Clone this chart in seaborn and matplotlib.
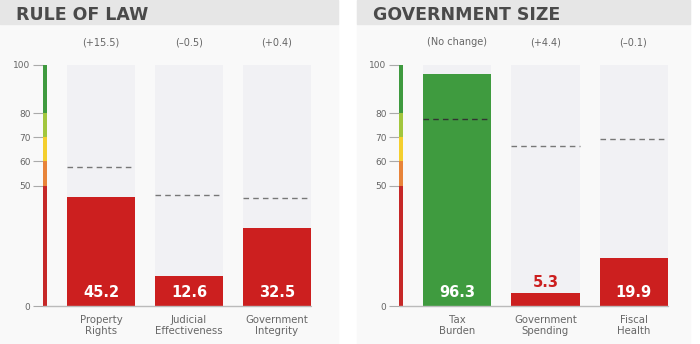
import matplotlib
matplotlib.use("Agg")
import matplotlib.pyplot as plt
from matplotlib.patches import Rectangle
import seaborn as sns
import pandas as pd

sns.set_style("white")
plt.rcParams['font.family'] = ['DejaVu Sans']

# ---- data ----
panel_titles = ["RULE OF LAW", "GOVERNMENT SIZE"]
left_categories = ["Property\nRights", "Judicial\nEffectiveness", "Government\nIntegrity"]
left_scores = [45.2, 12.6, 32.5]
left_averages = [57.7, 46.1, 44.9]
left_changes = ["(+15.5)", "(\u20130.5)", "(+0.4)"]

right_categories = ["Tax\nBurden", "Government\nSpending", "Fiscal\nHealth"]
right_scores = [96.3, 5.3, 19.9]
right_averages = [77.6, 66.5, 69.3]
right_changes = ["(No change)", "(+4.4)", "(\u20130.1)"]

scale_ticks = [0, 50, 60, 70, 80, 100]
scale_bands = [(0, 50), (50, 60), (60, 70), (70, 80), (80, 100)]
band_colors = ["#c62828", "#e8843a", "#f4cf2e", "#a2c63e", "#3f9a3f"]

RED = "#cc1f1f"
GREEN = "#3f9b3f"
BAR_BG = "#f1f1f4"
PANEL_BG = "#f9f9f9"
BAND_BG = "#e6e6e6"

W, H = 700, 344
fig = plt.figure(figsize=(7, 3.44), dpi=100)
fig.patch.set_facecolor("white")

def px_rect(x0, y0, x1, y1, color):
    fig.patches.append(Rectangle((x0 / W, 1 - y1 / H), (x1 - x0) / W, (y1 - y0) / H,
                                 transform=fig.transFigure, color=color, zorder=-5))

# panels
for (x0, x1) in [(0, 338), (357, 690)]:
    px_rect(x0, 0, x1, H, PANEL_BG)
    px_rect(x0, 0, x1, 24, BAND_BG)

fig.text(16 / W, 1 - 19.5 / H, panel_titles[0], fontsize=12.5, fontweight="bold",
         color="#4a4a4a", va="baseline", ha="left")
fig.text(373 / W, 1 - 19.5 / H, panel_titles[1], fontsize=12.5, fontweight="bold",
         color="#4a4a4a", va="baseline", ha="left")

y0_px, y100_px = 306, 65
spacing = 88.0
bar_w = 68 / spacing

def make_panel(axis_px, first_center_px, right_px, cats, scores, avgs, changes):
    xl = (axis_px - first_center_px) / spacing
    xr = (right_px - first_center_px) / spacing
    ax = fig.add_axes([axis_px / W, 1 - y0_px / H, (right_px - axis_px) / W,
                       (y0_px - y100_px) / H])
    ax.set_zorder(1)
    ax.set_facecolor("none")
    df = pd.DataFrame({"cat": cats, "score": scores, "full": [100] * len(cats)})
    sns.barplot(data=df, x="cat", y="full", color=BAR_BG, width=bar_w, ax=ax,
                saturation=1, zorder=1, linewidth=0)
    bar_cols = [GREEN if s >= 80 else RED for s in scores]
    sns.barplot(data=df, x="cat", y="score", hue="cat", palette=bar_cols, width=bar_w,
                ax=ax, saturation=1, legend=False, zorder=2, linewidth=0)
    ax.set_xlim(xl, xr)
    ax.set_ylim(0, 100)
    for s in ax.spines.values():
        s.set_visible(False)
    # colour scale bar
    cw = 4 / spacing
    for (a, b), c in zip(scale_bands, band_colors):
        ax.add_patch(Rectangle((xl, a), cw, b - a, color=c, zorder=3, clip_on=False,
                               lw=0))
    ax.set_yticks(scale_ticks)
    ax.tick_params(axis="y", left=True, length=7, width=0.8, color="#aaaaaa",
                   labelsize=6.5, labelcolor="#666666", pad=2)
    ax.set_xticks([])
    ax.set_xlabel("")
    ax.set_ylabel("")
    ax.plot([xl, len(cats) - 1 + bar_w / 2], [0, 0], color="#bbbbbb", lw=1,
            zorder=4, clip_on=False)
    for i, (s, a, ch, cat) in enumerate(zip(scores, avgs, changes, cats)):
        dcol = "#333333" if s > a else "#777777"
        ax.plot([i - bar_w / 2, i + bar_w / 2], [a, a], ls=(0, (4, 3)), color=dcol,
                lw=1, zorder=5)
        if s >= 12:
            ax.text(i, 5.4, f"{s}", color="white", fontsize=10.5, fontweight="bold",
                    ha="center", va="center", zorder=6)
        else:
            ax.text(i, s + 4.5, f"{s}", color=RED, fontsize=10.5, fontweight="bold",
                    ha="center", va="center", zorder=6)
        ax.text(i, 109.5, ch, color="#666666", fontsize=7, ha="center", va="center",
                clip_on=False)
        ax.text(i, -3.8, cat, color="#666666", fontsize=7.3, ha="center", va="top",
                linespacing=1.12, clip_on=False)
    return ax

make_panel(43, 101, 330, left_categories, left_scores, left_averages, left_changes)
make_panel(399, 457.5, 685, right_categories, right_scores, right_averages, right_changes)

fig.savefig("out.png", dpi=100, facecolor="white")
